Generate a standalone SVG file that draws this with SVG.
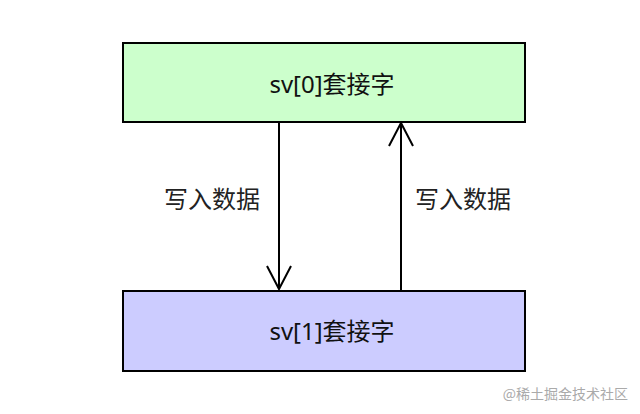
<svg xmlns="http://www.w3.org/2000/svg" width="640" height="414" viewBox="0 0 640 414">
<style>
.box{stroke:#000;stroke-width:2}
.t{font-family:"Noto Sans","Noto Sans CJK SC",sans-serif;font-size:24px;fill:#111;text-anchor:middle;dominant-baseline:central}
.lbl{font-family:"Noto Sans CJK SC",sans-serif;font-size:24px;fill:#222;text-anchor:middle;dominant-baseline:central}
.c{stroke:#000;stroke-width:2;fill:none}
.wm{font-family:"Noto Sans CJK SC",sans-serif;font-size:14px;fill:#aaa;text-anchor:end;dominant-baseline:central}
</style>
<rect width="640" height="414" fill="#fff"/>
<g id="sv0">
<rect class="box" x="123" y="43" width="402" height="79" fill="#CCFFCC"/>
<text class="t" x="332" y="83">sv[0]套接字</text>
</g>
<g id="sv1">
<rect class="box" x="123" y="291" width="402" height="80" fill="#CCCCFF"/>
<text class="t" x="332" y="330">sv[1]套接字</text>
</g>
<g id="connectors">
<line class="c" x1="279" y1="122" x2="279" y2="289"/>
<polyline class="c" points="267,266 279,289 291,266"/>
<text class="lbl" x="212" y="197">写入数据</text>
<line class="c" x1="401" y1="291" x2="401" y2="124"/>
<polyline class="c" points="389,146 401,123 413,146"/>
<text class="lbl" x="463" y="197">写入数据</text>
</g>
<text class="wm" x="628" y="393">@稀土掘金技术社区</text>
</svg>
